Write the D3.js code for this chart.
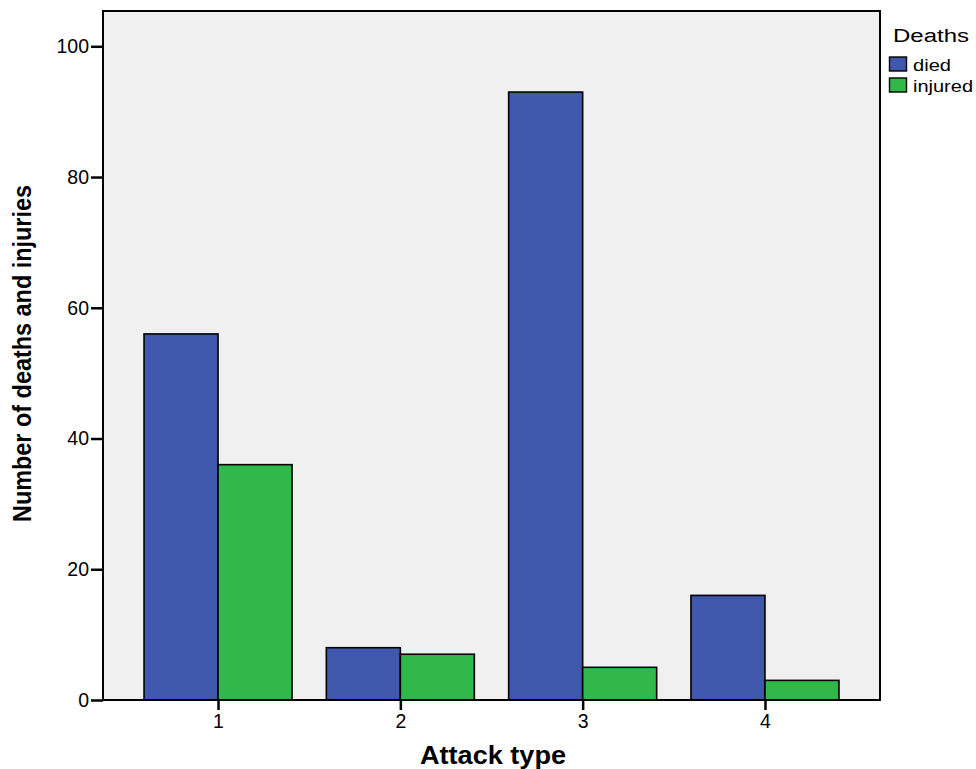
<!DOCTYPE html>
<html>
<head>
<meta charset="utf-8">
<script src="https://cdn.jsdelivr.net/npm/d3@7"></script>
<style>
  body { margin: 0; background: #fff; }
  text { font-family: "Liberation Sans", Arial, sans-serif; }
</style>
</head>
<body>
<div id="chart"></div>
<script>
var svgWidth = 976;
var svgHeight = 769;

var margin = { top: 11, right: 96, bottom: 69, left: 103 };

var width = svgWidth - margin.left - margin.right;
var height = svgHeight - margin.top - margin.bottom;

// data
var attackTypes = ["1", "2", "3", "4"];
var seriesNames = ["died", "injured"];
var died = [56, 8, 93, 16];
var injured = [36, 7, 5, 3];
var yTicks = [0, 20, 40, 60, 80, 100];
var colors = ["#3f58ac", "#31b84a"];

var svg = d3.select("#chart")
  .append("svg")
  .attr("width", svgWidth)
  .attr("height", svgHeight);

var chartGroup = svg.append("g")
  .attr("transform", `translate(${margin.left}, ${margin.top})`);

// plot background
chartGroup.append("rect")
  .attr("width", width)
  .attr("height", height)
  .attr("fill", "#f0f0f0");

var xScale = d3.scalePoint()
  .domain(attackTypes)
  .range([0, width])
  .padding(0.631);

var yScale = d3.scaleLinear()
  .domain([0, 105.4])
  .range([height, 0]);

var barWidth = 74;

var rows = attackTypes.map(function(t, i) {
  return { type: t, values: [died[i], injured[i]] };
});

var groups = chartGroup.selectAll(".grp")
  .data(rows)
  .enter()
  .append("g")
  .attr("class", "grp");

groups.selectAll("rect")
  .data(function(d) {
    return d.values.map(function(v, j) { return { type: d.type, v: v, j: j }; });
  })
  .enter()
  .append("rect")
  .attr("x", d => xScale(d.type) + (d.j - 1) * barWidth)
  .attr("y", d => yScale(d.v))
  .attr("width", barWidth)
  .attr("height", d => height - yScale(d.v))
  .attr("fill", d => colors[d.j])
  .attr("stroke", "#000")
  .attr("stroke-width", 1.6);

// frame
chartGroup.append("rect")
  .attr("width", width)
  .attr("height", height)
  .attr("fill", "none")
  .attr("stroke", "#000")
  .attr("stroke-width", 2);

// y axis
var leftAxis = d3.axisLeft(yScale)
  .tickValues(yTicks)
  .tickSize(12)
  .tickPadding(2);

var yAxis = chartGroup.append("g").call(leftAxis);
yAxis.select(".domain").remove();
yAxis.selectAll("line").attr("stroke", "#000").attr("stroke-width", 2.5);
yAxis.selectAll("text")
  .attr("font-size", "19.5px")
  .attr("fill", "#000")
  .style("font-family", "'Liberation Sans', Arial, sans-serif");

// x axis
var bottomAxis = d3.axisBottom(xScale)
  .tickSize(10)
  .tickPadding(4);

var xAxis = chartGroup.append("g")
  .attr("transform", `translate(0, ${height})`)
  .call(bottomAxis);
xAxis.select(".domain").remove();
xAxis.selectAll("line").attr("stroke", "#000").attr("stroke-width", 2.5);
xAxis.selectAll("text")
  .attr("font-size", "19.5px")
  .attr("fill", "#000")
  .style("font-family", "'Liberation Sans', Arial, sans-serif");

// axis titles
svg.append("text")
  .attr("transform", "translate(31, 353.5)rotate(-90)")
  .attr("text-anchor", "middle")
  .attr("font-size", "26px")
  .attr("font-weight", "bold")
  .attr("textLength", 337)
  .attr("lengthAdjust", "spacingAndGlyphs")
  .text("Number of deaths and injuries");

svg.append("text")
  .attr("x", 493)
  .attr("y", 764)
  .attr("text-anchor", "middle")
  .attr("font-size", "25px")
  .attr("font-weight", "bold")
  .attr("textLength", 146)
  .attr("lengthAdjust", "spacingAndGlyphs")
  .text("Attack type");

// legend
var legend = svg.append("g")
  .attr("transform", "translate(889, 0)");

legend.append("text")
  .attr("x", 4)
  .attr("y", 42)
  .attr("font-size", "18px")
  .attr("textLength", 76)
  .attr("lengthAdjust", "spacingAndGlyphs")
  .text("Deaths");

var legendWidths = [38, 60];

seriesNames.forEach(function(name, i) {
  legend.append("rect")
    .attr("x", 0.5)
    .attr("y", 57 + i * 21)
    .attr("width", 17)
    .attr("height", 14)
    .attr("fill", colors[i])
    .attr("stroke", "#000")
    .attr("stroke-width", 1.4);
  legend.append("text")
    .attr("x", 24)
    .attr("y", 71 + i * 21)
    .attr("font-size", "16px")
    .attr("textLength", legendWidths[i])
    .attr("lengthAdjust", "spacingAndGlyphs")
    .text(name);
});
</script>
</body>
</html>
